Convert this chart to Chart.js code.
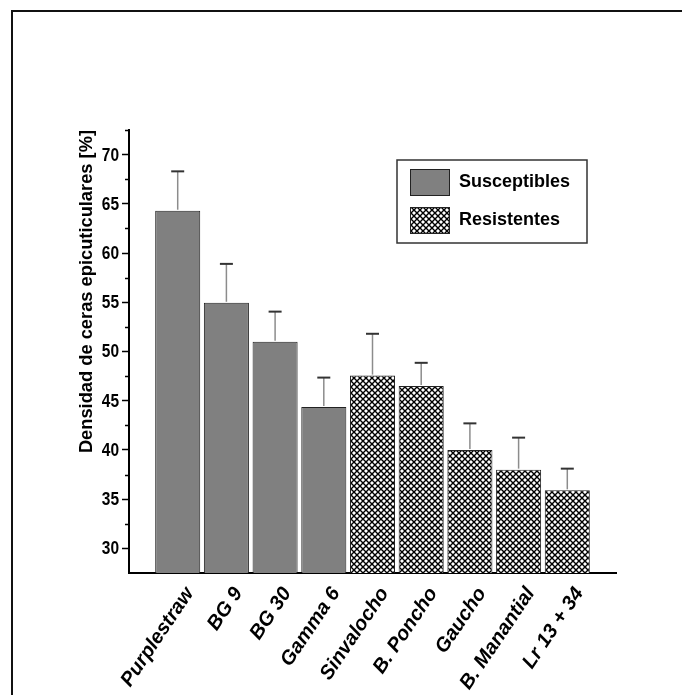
<!DOCTYPE html>
<html>
<head>
<meta charset="utf-8">
<script src="https://cdn.jsdelivr.net/npm/chart.js@4.4.0/dist/chart.umd.min.js"></script>
<style>
  html, body { margin: 0; padding: 0; background: #fff; }
  #wrap { position: relative; width: 682px; height: 695px; overflow: hidden; }
  #frame { position: absolute; left: 11px; top: 10px; width: 900px; height: 900px;
           border-top: 2px solid #111; border-left: 2px solid #111; }
  canvas { position: absolute; left: 0; top: 0; }
</style>
</head>
<body>
<div id="wrap">
  <div id="frame"></div>
  <canvas id="c" width="682" height="695"></canvas>
</div>
<script>
// ---- data ----
const categories = ['Purplestraw', 'BG 9', 'BG 30', 'Gamma 6', 'Sinvalocho', 'B. Poncho', 'Gaucho', 'B. Manantial', 'Lr 13 + 34'];
const groups     = ['S', 'S', 'S', 'S', 'R', 'R', 'R', 'R', 'R'];
const means      = [64.3, 54.95, 51.0, 44.35, 47.55, 46.5, 40.0, 38.0, 35.9];
const errors     = [4.0, 3.95, 3.05, 3.0, 4.25, 2.35, 2.7, 3.25, 2.2];
const seriesNames = ['Susceptibles', 'Resistentes'];
const yTicks     = [30, 35, 40, 45, 50, 55, 60, 65, 70];
const yRange     = [27.5, 72.5];
const yTitle     = 'Densidad de ceras epicuticulares [%]';

// crosshatch pattern
function makeHatch() {
  const s = 6;
  const pc = document.createElement('canvas');
  pc.width = s; pc.height = s;
  const p = pc.getContext('2d');
  p.fillStyle = '#fff'; p.fillRect(0, 0, s, s);
  p.strokeStyle = '#000'; p.lineWidth = 1.4;
  p.beginPath();
  p.moveTo(0, 0); p.lineTo(s, s);
  p.moveTo(s, 0); p.lineTo(0, s);
  p.stroke();
  return document.getElementById('c').getContext('2d').createPattern(pc, 'repeat');
}
const hatch = makeHatch();

// padded category labels so the axis runs one slot beyond each end
const labels = [''].concat(categories, ['']);
function seriesData(g) {
  return [null].concat(means.map((v, i) => groups[i] === g ? v : null), [null]);
}

const fontMain = "'Liberation Sans', Arial, sans-serif";

const errorBars = {
  id: 'errorBars',
  afterDatasetsDraw(chart) {
    const ctx = chart.ctx, xs = chart.scales.x, ys = chart.scales.y;
    ctx.save();
    means.forEach((v, i) => {
      const x = xs.getPixelForValue(i + 1);
      const y0 = ys.getPixelForValue(v);
      const y1 = ys.getPixelForValue(v + errors[i]);
      ctx.strokeStyle = '#8c8c8c'; ctx.lineWidth = 1.5;
      ctx.beginPath(); ctx.moveTo(x, y0 - 1); ctx.lineTo(x, y1); ctx.stroke();
      ctx.strokeStyle = '#333'; ctx.lineWidth = 2;
      ctx.beginPath(); ctx.moveTo(x - 6.5, y1); ctx.lineTo(x + 6.5, y1); ctx.stroke();
    });
    ctx.restore();
  }
};

// minor ticks + condensed tick labels on the y axis
const yAxisExtras = {
  id: 'yAxisExtras',
  afterDraw(chart) {
    const ctx = chart.ctx, ys = chart.scales.y, x0 = chart.chartArea.left;
    ctx.save();
    ctx.strokeStyle = '#000'; ctx.lineWidth = 1.5;
    yTicks.forEach(t => {
      const v = t + 2.5;
      if (v > yRange[1]) return;
      const y = Math.round(ys.getPixelForValue(v)) + 0.5;
      ctx.beginPath(); ctx.moveTo(x0 - 4, y); ctx.lineTo(x0, y); ctx.stroke();
    });
    ctx.fillStyle = '#000';
    ctx.font = "bold 18px " + fontMain;
    ctx.textAlign = 'right';
    ctx.textBaseline = 'middle';
    yTicks.forEach(t => {
      const y = ys.getPixelForValue(t);
      ctx.save();
      ctx.translate(x0 - 10, y + 1);
      ctx.scale(0.86, 1);
      ctx.fillText(String(t), 0, 0);
      ctx.restore();
    });
    ctx.restore();
  }
};

const legendBox = {
  id: 'legendBox',
  afterDraw(chart) {
    const ctx = chart.ctx;
    const bx = 397, by = 160, bw = 190, bh = 83;
    ctx.save();
    ctx.strokeStyle = '#333'; ctx.lineWidth = 1.5;
    ctx.strokeRect(bx, by, bw, bh);
    chart.data.datasets.forEach((ds, k) => {
      const sy = 169 + k * 38;
      ctx.fillStyle = ds.backgroundColor;
      ctx.fillRect(410, sy, 39, 26);
      ctx.strokeStyle = '#222'; ctx.lineWidth = 1;
      ctx.strokeRect(410.5, sy + 0.5, 39, 26);
      ctx.fillStyle = '#000';
      ctx.font = "bold 18px " + fontMain;
      ctx.textBaseline = 'middle';
      ctx.fillText(ds.label, 459, sy + 13);
    });
    ctx.restore();
  }
};

new Chart(document.getElementById('c'), {
  type: 'bar',
  data: {
    labels: labels,
    datasets: [
      { label: seriesNames[0], data: seriesData('S'), backgroundColor: '#808080',
        borderColor: '#222', borderWidth: 1 },
      { label: seriesNames[1], data: seriesData('R'), backgroundColor: hatch,
        borderColor: '#222', borderWidth: 1 }
    ]
  },
  options: {
    responsive: false,
    animation: false,
    layout: { padding: { left: 70, top: 130, right: 66, bottom: 0 } },
    categoryPercentage: 1,
    barPercentage: 0.925,
    plugins: { legend: { display: false }, tooltip: { enabled: false } },
    scales: {
      x: {
        stacked: true,
        offset: false,
        grid: { display: false },
        border: { display: true, color: '#000', width: 2 },
        ticks: {
          autoSkip: false, maxRotation: 56, minRotation: 56, padding: 2, labelOffset: 12,
          color: '#000', font: { family: fontMain, size: 20, weight: 'bold', style: 'italic' }
        },
        afterFit(scale) { scale.height = 122; }
      },
      y: {
        min: yRange[0], max: yRange[1],
        afterBuildTicks(scale) { scale.ticks = yTicks.map(v => ({ value: v })); },
        grid: { drawOnChartArea: false, drawTicks: true, tickLength: 7, tickColor: '#000', tickWidth: 1.5 },
        border: { display: true, color: '#000', width: 2 },
        ticks: { display: false },
        title: {
          display: true, text: yTitle, align: 'end', color: '#000',
          padding: { top: 6, bottom: 0 },
          font: { family: fontMain, size: 18.3, weight: 'bold' }
        },
        afterFit(scale) { scale.width = 59; }
      }
    }
  },
  plugins: [errorBars, yAxisExtras, legendBox]
});
</script>
</body>
</html>
